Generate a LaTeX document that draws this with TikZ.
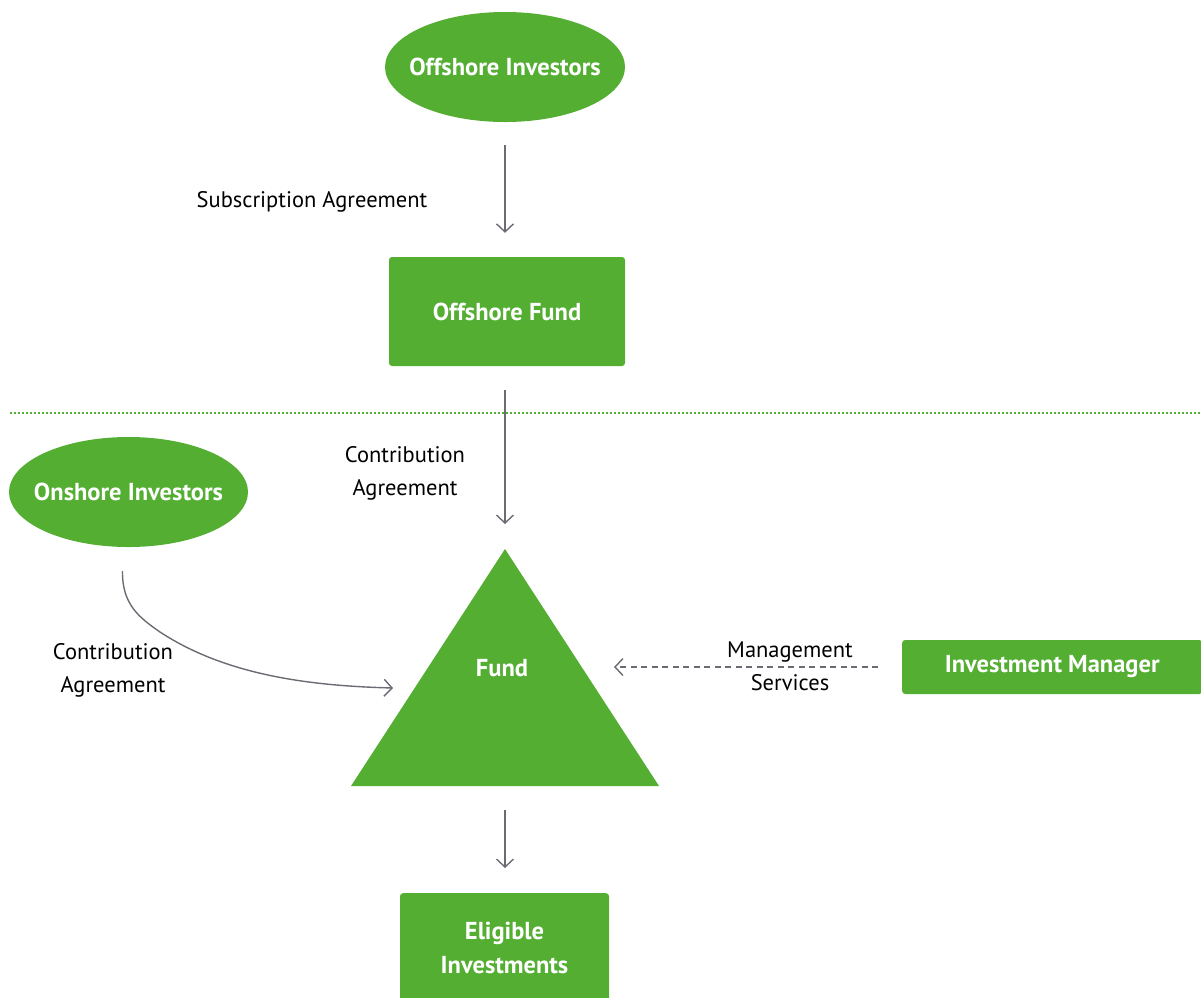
\documentclass[tikz,border=0pt]{standalone}
\usepackage{fontspec}
\setmainfont{PT Sans}
\usetikzlibrary{arrows.meta,calc,shapes.geometric}
\definecolor{leaf}{HTML}{53AE32}
\definecolor{wire}{HTML}{6B6B73}
\tikzset{
  heavy/.style={font=\bfseries\fontsize{24.5}{34}\selectfont},
  blob/.style={ellipse, fill=leaf, text=white, heavy, inner sep=0pt},
  panel/.style={rectangle, rounded corners=3pt, fill=leaf, text=white, heavy, inner sep=0pt, align=center},
  tag/.style={font=\fontsize{22.5}{33}\selectfont, text=black, align=center, inner sep=0pt},
  flow/.style={draw=wire, line width=1.4pt, -{Straight Barb[length=8pt,width=17pt,line width=1.4pt]}},
}
% keeps the ellipse at its given size whatever the width of its label
\newcommand{\fixedlabel}[1]{\makebox[0pt]{#1}}
\begin{document}
\begin{tikzpicture}[x=1pt,y=-1pt]
\useasboundingbox (0,0) rectangle (1201,997);

% boundary between offshore and onshore parts
\draw[leaf, line width=1.6pt, dash pattern=on 1.6pt off 2.4pt] (10,413) -- (1201,413);

% entities
\node[blob, minimum width=240pt, minimum height=110pt] (offinv) at (505,67) {\fixedlabel{Offshore Investors}};
\node[panel, minimum width=236pt, minimum height=109pt] (offfund) at (507,311.5) {Offshore Fund};
\node[blob, minimum width=239pt, minimum height=110pt] (oninv) at (128.5,492) {\fixedlabel{Onshore Investors}};
\node[panel, minimum width=300pt, minimum height=54pt, anchor=west] (mgr) at (902,667) {Investment Manager};
\node[panel, minimum width=209pt, minimum height=110pt, anchor=north] (elig) at (504.5,893) {Eligible\\Investments};

% the fund
\coordinate (apex) at (505,549);
\coordinate (bl) at (351,786);
\coordinate (br) at (659,786);
\coordinate (basemid) at ($(bl)!0.5!(br)$);
\fill[leaf] (apex) -- (br) -- (bl) -- cycle;
\node[text=white, heavy, inner sep=0pt] (fund) at (502,668) {Fund};

% free ends of the connectors into the fund
\coordinate (onin) at (393,688);
\coordinate (mgrin) at (614,667);

% connectors
\draw[flow] ([yshift=-23pt]offinv.south) -- ([yshift=24pt]offfund.north -| offinv.south);
\draw[flow] ([yshift=-24pt]offfund.south -| apex) -- ([yshift=25pt]apex);
\draw[flow] ([yshift=-24pt]basemid) -- ([yshift=25pt]elig.north -| basemid);
\draw[flow] ([xshift=-6pt,yshift=-24pt]oninv.south) .. controls (122,605) and (140,618) .. (160,632)
   .. controls (230,678) and (320,686) .. (onin);
\draw[flow, dash pattern=on 6pt off 4.5pt] ([xshift=-24pt]mgr.west) -- (mgrin);

% labels
\node[tag] (lsub) at (312,202) {Subscription Agreement};
\node[tag] (lcon1) at (405,473) {Contribution\\Agreement};
\node[tag] (lcon2) at (113,670) {Contribution\\Agreement};
\node[tag] (lmgmt) at (790,666) {Management\\Services};
\end{tikzpicture}
\end{document}
